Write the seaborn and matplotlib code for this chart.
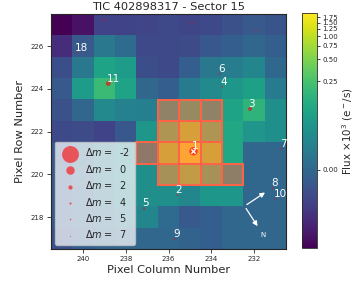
import matplotlib
matplotlib.use('Agg')
import matplotlib.pyplot as plt
import matplotlib.patches as patches
from matplotlib.colors import FuncNorm
import numpy as np
import pandas as pd
import seaborn as sns

# pixel grid of the TPF
columns = np.arange(231, 242)
rows = np.arange(217, 228)

# flux (x10^3 e-/s); rows from 227 (top) down to 217, columns from 241 (left) to 231
flux = [
    [-0.0180, -0.0172, -0.0120, -0.0120, -0.0115, -0.0109, -0.0115, -0.0109, -0.0088, -0.0062, -0.0079],
    [-0.0151, -0.0062, 0.0117, 0.0024, -0.0109, -0.0109, -0.0102, -0.0071, -0.0041, -0.0004, -0.0041],
    [-0.0095, 0.0117, 0.0900, 0.0694, -0.0095, -0.0109, -0.0041, 0.0117, 0.0164, 0.0280, 0.0009],
    [-0.0062, 0.0694, 0.2000, 0.0900, -0.0004, -0.0041, 0.0140, 0.0352, 0.0578, 0.0826, 0.0140],
    [-0.0088, -0.0004, 0.0314, 0.0218, 0.0190, 0.0900, 0.1580, 0.0900, 0.0900, 0.1580, 0.0432],
    [-0.0109, -0.0102, -0.0120, -0.0071, 0.0578, 0.3360, 0.8550, 0.3360, 0.1060, 0.0526, 0.0432],
    [-0.0071, 0.0024, 0.0117, 0.0250, 0.0432, 0.8550, 1.9800, 0.8550, 0.1060, -0.0004, -0.0004],
    [-0.0062, -0.0004, 0.0117, 0.0280, 0.0432, 0.2690, 0.5570, 0.2690, 0.0694, -0.0004, -0.0004],
    [-0.0062, -0.0018, 0.0080, 0.0250, 0.0432, 0.0432, 0.0280, 0.0578, 0.0578, -0.0004, -0.0004],
    [-0.0062, -0.0018, 0.0024, 0.0117, 0.0280, 0.0024, -0.0062, -0.0041, -0.0004, -0.0004, -0.0004],
    [-0.0088, -0.0041, -0.0018, -0.0004, -0.0004, -0.0004, -0.0018, -0.0041, -0.0004, -0.0004, -0.0004],
]

# aperture pixels
aperture_cols = [236, 235, 234, 236, 235, 234, 237, 236, 235, 234, 236, 235, 234, 233]
aperture_rows = [223, 223, 223, 222, 222, 222, 221, 221, 221, 221, 220, 220, 220, 220]

# Gaia sources (label, column, row, delta mag)
star_ids = ['1', '2', '3', '4', '5', '6', '7', '8', '9', '10', '11', '18', '', '', '']
star_col = [234.83, 235.60, 232.18, 233.49, 237.14, 233.60, 230.72, 231.12, 235.72, 230.98, 238.82, 240.31, 239.00, 234.90, 231.90]
star_row = [221.08, 219.03, 223.06, 224.10, 218.40, 224.71, 221.20, 219.35, 216.96, 218.83, 224.25, 225.70, 227.23, 227.10, 226.75]
star_dm = [0.0, 4.5, 2.2, 4.5, 4.0, 4.5, 4.5, 4.5, 4.5, 4.5, 1.6, 5.0, 4.5, 4.5, 4.5]

legend_dm = [-2, 0, 2, 4, 5, 7]

title = 'TIC 402898317 - Sector 15'

sns.set_style('ticks')
plt.rcParams['font.family'] = ['DejaVu Sans']

data = np.array(flux)
vmin, vmax = data.min(), data.max()


def stretch(v):
    x = (np.asarray(v, dtype=float) - vmin) / (vmax - vmin)
    return np.log10(np.maximum(1000 * x + 1, 1e-12))


def unstretch(y):
    return vmin + (10 ** np.asarray(y, dtype=float) - 1) / 1000 * (vmax - vmin)


norm = FuncNorm((stretch, unstretch), vmin=vmin, vmax=vmax)

fig = plt.figure(figsize=(3.57, 2.83), dpi=100)
ax = fig.add_axes([0.143, 0.120, 0.658, 0.830])
cax = fig.add_axes([0.846, 0.123, 0.042, 0.830])

im = ax.imshow(data, cmap='viridis', norm=norm, origin='upper', aspect='auto',
               extent=(columns.max() + 0.5, columns.min() - 0.5,
                       rows.min() - 0.5, rows.max() + 0.5), zorder=0)

for c, r in zip(aperture_cols, aperture_rows):
    ax.add_patch(patches.Rectangle((c - 0.5, r - 0.5), 1, 1, facecolor='tomato',
                                   edgecolor='none', alpha=0.5, zorder=2))
    ax.add_patch(patches.Rectangle((c - 0.5, r - 0.5), 1, 1, fill=False,
                                   edgecolor='tomato', lw=1.4, zorder=3))

stars = pd.DataFrame({'col': star_col, 'row': star_row, 'dm': star_dm, 'label': star_ids})
stars['size'] = 37.0 / 2 ** stars['dm']
sns.scatterplot(data=stars, x='col', y='row', s=stars['size'], color='red', alpha=0.6,
                linewidth=0, edgecolor='none', legend=False, ax=ax, zorder=5)
ax.scatter(star_col[0], star_row[0], marker='x', color='white', s=10, lw=0.9, zorder=6)

for lab, c, r in zip(star_ids, star_col, star_row):
    if lab:
        ax.text(c + 0.07, r, lab, color='white', fontsize=7.5, ha='left', va='bottom', zorder=7)

# compass
origin = (232.44, 218.51)
ax.annotate('', xy=(231.37, 219.22), xytext=origin,
            arrowprops=dict(arrowstyle='-|>', color='white', lw=0.9, mutation_scale=7), zorder=7)
ax.annotate('', xy=(231.76, 217.46), xytext=origin,
            arrowprops=dict(arrowstyle='-|>', color='white', lw=0.9, mutation_scale=7), zorder=7)
ax.text(231.57, 217.15, 'N', color='white', fontsize=5, ha='center', va='center', zorder=7)

handles = [ax.scatter([], [], s=37.0 / 2 ** dm, color='red', alpha=0.6, lw=0,
                      label=r'$\Delta m=$ ' + ' ' + str(dm)) for dm in legend_dm]
leg = ax.legend(handles=handles, loc='lower left', fontsize=7, framealpha=0.72,
                labelspacing=0.45, borderaxespad=0.4, handletextpad=0.6, borderpad=0.5)
leg.set_zorder(10)

ax.set_xticks([232, 234, 236, 238, 240])
ax.set_yticks([218, 220, 222, 224, 226])
ax.tick_params(labelsize=5, length=3, width=0.6, pad=2)
ax.set_xlabel('Pixel Column Number', fontsize=8.2, labelpad=2)
ax.set_ylabel('Pixel Row Number', fontsize=8.2, labelpad=4)
ax.set_title(title, fontsize=8.2, pad=3)
for s in ax.spines.values():
    s.set_linewidth(0.8)

cb = fig.colorbar(im, cax=cax)
cb.set_ticks([0, 0.25, 0.5, 0.75, 1.0, 1.25, 1.5, 1.75])
cb.ax.set_yticklabels(['%.2f' % t for t in [0, 0.25, 0.5, 0.75, 1.0, 1.25, 1.5, 1.75]])
cb.ax.tick_params(labelsize=5, length=2.5, width=0.6, pad=1.5)
cb.outline.set_linewidth(0.6)
cb.set_label(r'Flux $\times 10^3$ (e$^-$/s)', fontsize=7.4, labelpad=1)

fig.savefig('out.png', dpi=100)
